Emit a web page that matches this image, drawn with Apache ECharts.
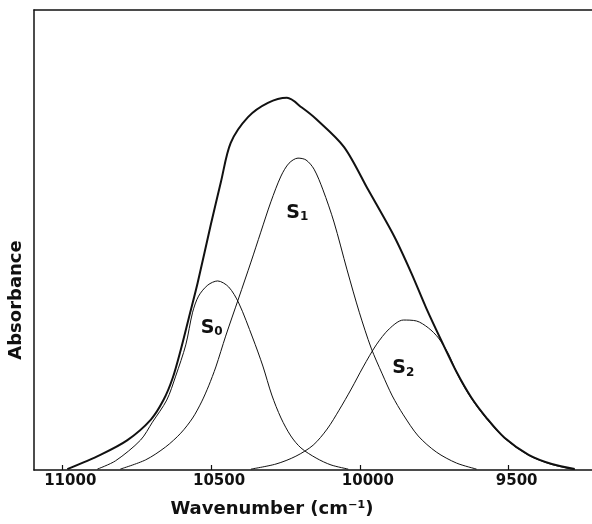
<!DOCTYPE html>
<html>
<head>
<meta charset="utf-8">
<title>Absorbance</title>
<script src="https://cdn.jsdelivr.net/npm/echarts@6/dist/echarts.min.js"></script>
<style>
  html, body { margin: 0; padding: 0; background: #fff; }
  #chart { width: 592px; height: 524px; }
</style>
</head>
<body>
<div id="chart"></div>
<script>
  // [wavenumber, absorbance]
  var totalCurve = [
    [10983, 0.002], [10872, 0.033], [10781, 0.065], [10703, 0.109], [10660, 0.152],
    [10629, 0.200], [10602, 0.261], [10575, 0.330], [10545, 0.407], [10501, 0.533],
    [10467, 0.626], [10434, 0.711], [10376, 0.767], [10309, 0.798], [10245, 0.809],
    [10195, 0.788], [10147, 0.763], [10053, 0.702], [9972, 0.609], [9884, 0.507],
    [9827, 0.428], [9777, 0.352], [9726, 0.281], [9675, 0.213], [9625, 0.157],
    [9574, 0.113], [9514, 0.070], [9433, 0.033], [9355, 0.013], [9278, 0.002]
  ]
  var s0Curve = [
    [10882, 0.002], [10821, 0.020], [10737, 0.065], [10697, 0.104], [10649, 0.152],
    [10619, 0.204], [10585, 0.272], [10562, 0.343], [10542, 0.378], [10511, 0.402],
    [10478, 0.411], [10441, 0.398], [10407, 0.363], [10360, 0.287], [10326, 0.226],
    [10296, 0.163], [10265, 0.113], [10232, 0.074], [10198, 0.048], [10147, 0.026],
    [10097, 0.011], [10039, 0.002]
  ]
  var s1Curve = [
    [10805, 0.002], [10720, 0.022], [10653, 0.050], [10602, 0.080], [10562, 0.113],
    [10532, 0.148], [10508, 0.183], [10484, 0.224], [10451, 0.291], [10407, 0.374],
    [10366, 0.452], [10333, 0.517], [10299, 0.583], [10265, 0.639], [10238, 0.667],
    [10208, 0.678], [10181, 0.674], [10154, 0.654], [10124, 0.609], [10087, 0.539],
    [10043, 0.435], [10002, 0.343], [9962, 0.265], [9925, 0.209], [9891, 0.161],
    [9854, 0.120], [9804, 0.074], [9743, 0.039], [9675, 0.015], [9608, 0.002]
  ]
  var s2Curve = [
    [10366, 0.002], [10282, 0.013], [10215, 0.030], [10157, 0.054], [10110, 0.089],
    [10070, 0.130], [10029, 0.176], [9989, 0.224], [9945, 0.272], [9901, 0.307],
    [9854, 0.326], [9810, 0.324], [9770, 0.309], [9736, 0.287], [9702, 0.252],
    [9669, 0.204], [9625, 0.155], [9574, 0.111], [9514, 0.069], [9433, 0.032],
    [9355, 0.012], [9278, 0.001]
  ]
  var tickValues = [11000, 10500, 10000, 9500]
  // label name, subscript, position
  var peakLabels = [
    ['S', '0', 10498, 0.309],
    ['S', '1', 10210, 0.559],
    ['S', '2', 9854, 0.222]
  ]

  var font = 'DejaVu Sans'

  function labelPoint (i) {
    var p = peakLabels[i]
    return {
      symbolSize: 0,
      data: [{ coord: [p[2], p[3]] }],
      label: {
        show: true,
        position: 'inside',
        formatter: '{s|' + p[0] + '}{sub|' + p[1] + '}',
        rich: {
          s: { fontFamily: font, fontSize: 19, fontWeight: 'bold', color: '#111' },
          sub: { fontFamily: font, fontSize: 12, fontWeight: 'bold', color: '#111', padding: [9, 0, 0, 0] }
        }
      }
    }
  }

  function curve (name, data, width, mark) {
    var s = {
      name: name,
      type: 'line',
      smooth: 0.3,
      symbol: 'none',
      lineStyle: { color: '#111', width: width },
      data: data
    }
    if (mark !== undefined) s.markPoint = labelPoint(mark)
    return s
  }

  var chart = echarts.init(document.getElementById('chart'))
  var option = {
    animation: false,
    backgroundColor: '#fff',
    grid: { left: 34, right: 0, top: 10, bottom: 54, containLabel: false, outerBoundsMode: 'none' },
    xAxis: [{
      type: 'value',
      min: 9220,
      max: 11095,
      inverse: true,
      position: 'bottom',
      name: 'Wavenumber (cm⁻¹)',
      nameLocation: 'middle',
      nameGap: 30,
      nameTextStyle: { fontFamily: font, fontSize: 18, fontWeight: 'bold', color: '#111', padding: [0, 82, 0, 0] },
      axisLine: { show: true, lineStyle: { color: '#111', width: 1.5 } },
      axisTick: { show: true, inside: true, length: 5, customValues: tickValues, lineStyle: { color: '#111', width: 1.2 } },
      axisLabel: {
        customValues: tickValues,
        margin: 4,
        fontFamily: font,
        fontSize: 15,
        fontWeight: 'bold',
        color: '#111',
        padding: [0, 0, 0, 16],
        formatter: function (v) { return String(v) }
      },
      splitLine: { show: false }
    }, {
      type: 'value',
      min: 9220,
      max: 11095,
      inverse: true,
      position: 'top',
      axisLine: { show: true, lineStyle: { color: '#111', width: 1.5 } },
      axisTick: { show: false },
      axisLabel: { show: false },
      splitLine: { show: false }
    }],
    yAxis: {
      type: 'value',
      min: 0,
      max: 1,
      name: 'Absorbance',
      nameLocation: 'middle',
      nameRotate: 90,
      nameGap: 9,
      nameTextStyle: { fontFamily: font, fontSize: 18, fontWeight: 'bold', color: '#111', padding: [0, 120, 0, 0] },
      axisLine: { show: true, lineStyle: { color: '#111', width: 1.5 } },
      axisTick: { show: false },
      axisLabel: { show: false },
      splitLine: { show: false }
    },
    series: [
      curve('total', totalCurve, 2),
      curve('S0', s0Curve, 1, 0),
      curve('S1', s1Curve, 1, 1),
      curve('S2', s2Curve, 1, 2)
    ]
  }
  chart.setOption(option, true)
  window.onresize = chart.resize
</script>
</body>
</html>
